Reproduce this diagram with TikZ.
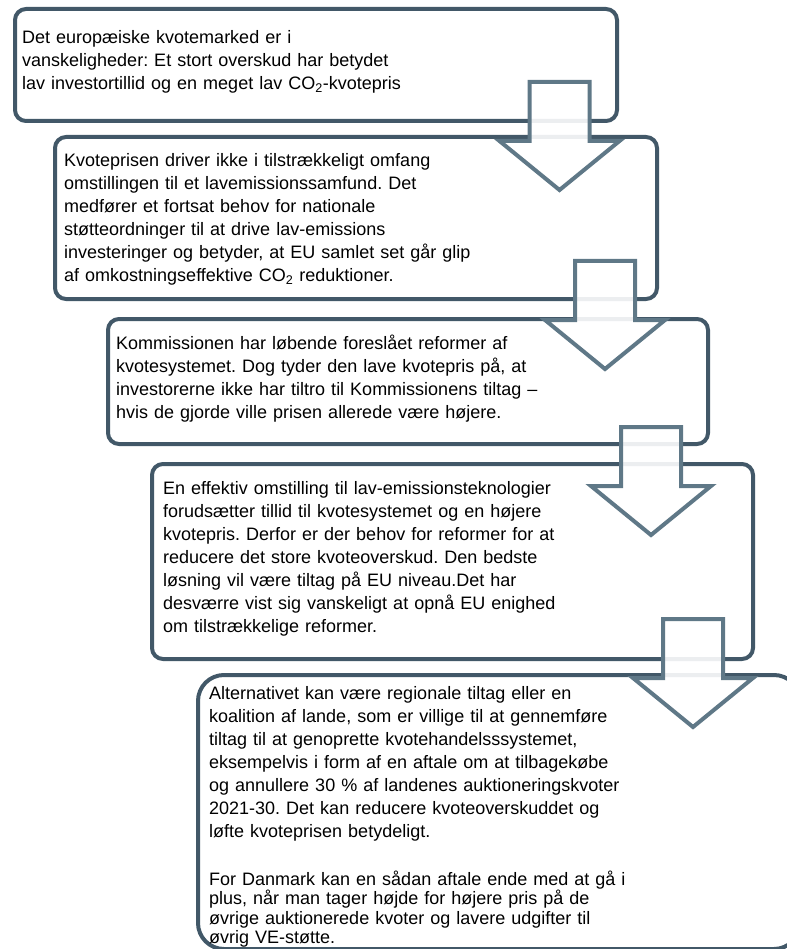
\documentclass[tikz,border=0pt]{standalone}
\usepackage{fontspec}
\setmainfont{Liberation Sans}
\definecolor{boxline}{HTML}{425868}
\definecolor{arrline}{HTML}{5F7887}
\newcommand{\firststrut}{\rule{0pt}{16pt}}
\frenchspacing
\begin{document}
\frenchspacing
\begin{tikzpicture}[x=1pt,y=-1pt,
  stepbox/.style={draw=boxline, line width=4pt, rounded corners=11pt, anchor=north west, inner sep=0pt},
  bigbox/.style={draw=boxline, line width=4pt, rounded corners=26pt, anchor=north west, inner sep=0pt},
  maintext/.style={anchor=north west, inner sep=0pt, text width=560pt, align=left, font=\fontsize{18}{23}\selectfont\frenchspacing},
  smalltext/.style={anchor=north west, inner sep=0pt, text width=560pt, align=left, font=\fontsize{18}{19.5}\selectfont\frenchspacing},
  downarrow/.style={draw=arrline, line width=4pt, fill=white, fill opacity=0.9, line join=miter}
]
\useasboundingbox (0,0) rectangle (786,949);

% boxes
\node[stepbox, minimum width=602pt, minimum height=112pt] (b1) at (13,7) {};
\node[stepbox, minimum width=602pt, minimum height=162pt] (b2) at (53,135) {};
\node[stepbox, minimum width=600pt, minimum height=125pt] (b3) at (106,317) {};
\node[stepbox, minimum width=601pt, minimum height=195pt] (b4) at (150,462) {};
\node[bigbox, minimum width=602pt, minimum height=274pt] (b5) at (196,673) {};

% texts
\node[maintext] (t1) at (22,27) {\noindent\firststrut Det europæiske kvotemarked er i\\
vanskeligheder: Et stort overskud har betydet\\
lav investortillid og en meget lav CO\textsubscript{2}-kvotepris};

\node[maintext] (t2) at (64,150) {\noindent\firststrut Kvoteprisen driver ikke i tilstrækkeligt omfang\\
omstillingen til et lavemissionssamfund. Det\\
medfører et fortsat behov for nationale\\
støtteordninger til at drive lav-emissions\\
investeringer og betyder, at EU samlet set går glip\\
af omkostningseffektive CO\textsubscript{2} reduktioner.};

\node[maintext] (t3) at (116,333) {\noindent\firststrut Kommissionen har løbende foreslået reformer af\\
kvotesystemet. Dog tyder den lave kvotepris på, at\\
investorerne ikke har tiltro til Kommissionens tiltag –\\
hvis de gjorde ville prisen allerede være højere.};

\node[maintext] (t4) at (163,478) {\noindent\firststrut En effektiv omstilling til lav-emissionsteknologier\\
forudsætter tillid til kvotesystemet og en højere\\
kvotepris. Derfor er der behov for reformer for at\\
reducere det store kvoteoverskud. Den bedste\\
løsning vil være tiltag på EU niveau.Det har\\
desværre vist sig vanskeligt at opnå EU enighed\\
om tilstrækkelige reformer.};

\node[maintext] (t5) at (209,683) {\noindent\firststrut Alternativet kan være regionale tiltag eller en\\
koalition af lande, som er villige til at gennemføre\\
tiltag til at genoprette kvotehandelsssystemet,\\
eksempelvis i form af en aftale om at tilbagekøbe\\
og annullere 30 \% af landenes auktioneringskvoter\\
2021-30. Det kan reducere kvoteoverskuddet og\\
løfte kvoteprisen betydeligt.};

\node[smalltext] (t6) at (209,869) {\noindent\firststrut For Danmark kan en sådan aftale ende med at gå i\\
plus, når man tager højde for højere pris på de\\
øvrige auktionerede kvoter og lavere udgifter til\\
øvrig VE-støtte.};

% block arrows
\foreach \cx/\tp in {559.5/82, 605/261, 651/427, 693/619}{
  \draw[downarrow, shift={(\cx,\tp)}] (-30,0) -- (30,0) -- (30,59) -- (60,59) -- (0,108) -- (-60,59) -- (-30,59) -- cycle;
}
\end{tikzpicture}
\end{document}
